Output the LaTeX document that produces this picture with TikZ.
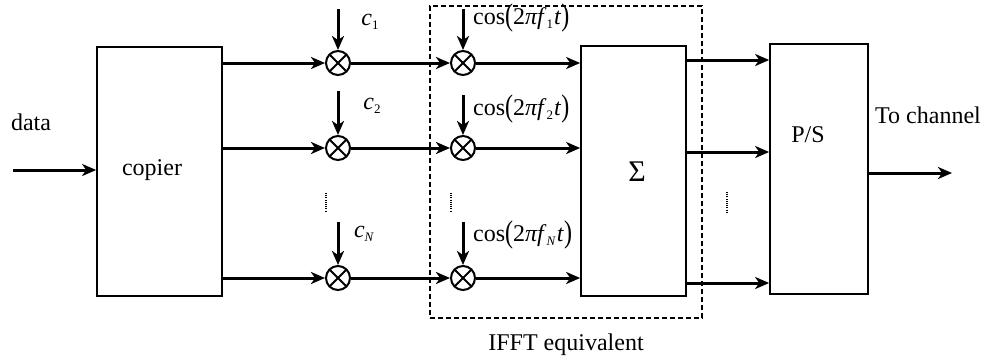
\documentclass[tikz,border=0pt]{standalone}
\usepackage{fontspec}
\setmainfont{Liberation Serif}
\usepackage{graphicx}
\usetikzlibrary{arrows.meta}
\newcommand\sbs[1]{\raisebox{-0.4ex}{\fontsize{13}{14}\selectfont #1}}
\newcommand\bigp[1]{\raisebox{-0.12ex}{\scalebox{1}[1.3]{#1}}}
\newcommand\cosl[1]{cos\bigp{(}2\textit{πf}\sbs{#1}\kern1pt\textit{t}\bigp{)}}
\begin{document}
\begin{tikzpicture}[x=1pt,y=-1pt,font=\fontsize{24}{28}\selectfont,
  box/.style={draw,line width=1.7pt,inner sep=0pt},
  sig/.style={line width=3pt,-{Stealth[length=14pt,width=12pt,inset=4pt]}},
  mult/.style={circle,draw,line width=2pt,minimum size=24pt,inner sep=0pt,
    path picture={\draw[line width=1.8pt]
      (path picture bounding box.north west)--(path picture bounding box.south east)
      (path picture bounding box.north east)--(path picture bounding box.south west);}},
  vdots/.style={line width=2pt,dash pattern=on 1pt off 1.2pt},
  txt/.style={inner sep=0pt}]
\useasboundingbox (0,0) rectangle (991,360);
% dashed IFFT region
\node[draw,dash pattern=on 5pt off 3pt,line width=1.5pt,minimum width=272pt,minimum height=312pt,inner sep=0pt] (ifft) at (566,162) {};
\node[txt] (ifftl) at (566,345) {IFFT equivalent};
% blocks
\node[box,minimum width=125pt,minimum height=249pt] (cp) at (159.5,171.5) {};
\node[txt] (cpl) at (152,170) {copier};
\node[box,fill=white,minimum width=105pt,minimum height=250pt] (sg) at (633.5,171) {};
\node[txt,font=\fontsize{30}{32}\selectfont] (sgl) at (637,172) {Σ};
\node[box,minimum width=98pt,minimum height=250pt] (ps) at (819,169) {};
\node[txt] (psl) at (808,135) {P/S};
% multipliers
\node[mult] (m11) at (338,63) {};
\node[mult] (m12) at (338,148) {};
\node[mult] (m1N) at (338,278) {};
\node[mult] (m21) at (463,63) {};
\node[mult] (m22) at (463,148) {};
\node[mult] (m2N) at (463,278) {};
% input data
\coordinate (din) at (13,170);
\node[txt] (datal) at (31,122) {data};
\draw[sig] (din) -- (cp.west |- din);
% rows
\foreach \r in {1,2,N}{
  \draw[sig] (cp.east |- m1\r) -- (m1\r);
  \draw[sig] (m1\r) -- (m2\r);
  \draw[sig] (m2\r) -- (sg.west |- m2\r);
}
% multiplier inputs
\coordinate (a11) at (338,9);
\coordinate (a12) at (338,91);
\coordinate (a1N) at (338,222);
\coordinate (a21) at (463,9);
\coordinate (a22) at (463,95);
\coordinate (a2N) at (463,222);
\foreach \r in {1,2,N}{
  \draw[sig] (a1\r) -- (m1\r);
  \draw[sig] (a2\r) -- (m2\r);
}
\node[txt] (c1) at (370,22) {\textit{c}\sbs{1}};
\node[txt] (c2) at (372,106) {\textit{c}\sbs{2}};
\node[txt] (cN) at (364,234) {\textit{c}\sbs{\textit{N}}};
\node[txt,anchor=west] (f1) at (473,18) {\cosl{1}};
\node[txt,anchor=west] (f2) at (473,109) {\cosl{2}};
\node[txt,anchor=west] (fN) at (473,235) {\cosl{\textit{N}}};
% vertical dots
\coordinate (d1a) at (326,193); \coordinate (d1b) at (326,212);
\coordinate (d2a) at (451,193); \coordinate (d2b) at (451,212);
\coordinate (d3a) at (727,192); \coordinate (d3b) at (727,212);
\draw[vdots] (d1a) -- (d1b);
\draw[vdots] (d2a) -- (d2b);
\draw[vdots] (d3a) -- (d3b);
% sigma outputs
\coordinate (s1) at (686,60);
\coordinate (s2) at (686,152);
\coordinate (sN) at (686,283);
\draw[sig] (s1) -- (s1 -| ps.west);
\draw[sig] (s2) -- (s2 -| ps.west);
\draw[sig] (sN) -- (sN -| ps.west);
% output
\coordinate (po) at (868,173);
\coordinate (out) at (952,173);
\draw[sig] (po) -- (out);
\node[txt] (tcl) at (928,115) {To channel};
\end{tikzpicture}
\end{document}
